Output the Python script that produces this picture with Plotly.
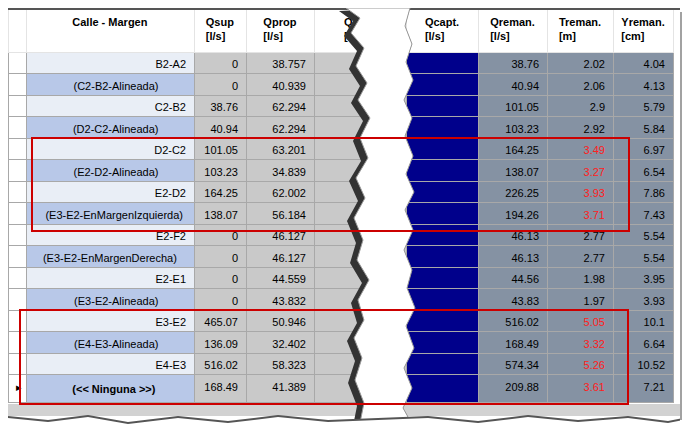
import plotly.graph_objects as go

W, H = 690, 437

calle = ["B2-A2", "(C2-B2-Alineada)", "C2-B2", "(D2-C2-Alineada)", "D2-C2", "(E2-D2-Alineada)",
         "E2-D2", "(E3-E2-EnMargenIzquierda)", "E2-F2", "(E3-E2-EnMargenDerecha)", "E2-E1",
         "(E3-E2-Alineada)", "E3-E2", "(E4-E3-Alineada)", "E4-E3", "(<< Ninguna >>)"]
qsup = [0, 0, 38.76, 40.94, 101.05, 103.23, 164.25, 138.07, 0, 0, 0, 0, 465.07, 136.09, 516.02, 168.49]
qprop = [38.757, 40.939, 62.294, 62.294, 63.201, 34.839, 62.002, 56.184, 46.127, 46.127, 44.559,
         43.832, 50.946, 32.402, 58.323, 41.389]
qreman = [38.76, 40.94, 101.05, 103.23, 164.25, 138.07, 226.25, 194.26, 46.13, 46.13, 44.56,
          43.83, 516.02, 168.49, 574.34, 209.88]
qtot = qreman
treman = [2.02, 2.06, 2.9, 2.92, 3.49, 3.27, 3.93, 3.71, 2.77, 2.77, 1.98, 1.97, 5.05, 3.32, 5.26, 3.61]
yreman = [4.04, 4.13, 5.79, 5.84, 6.97, 6.54, 7.86, 7.43, 5.54, 5.54, 3.95, 3.93, 10.1, 6.64, 10.52, 7.21]
alert = [False] * 4 + [True] * 4 + [False] * 4 + [True] * 4
headers = ["", "<b>Calle - Margen</b>", "<b>Qsup<br>[l/s]</b>", "<b>Qprop<br>[l/s]</b>",
           "<b>Qtotal<br>[l/s]</b>", "<b>Qcapt.<br>[l/s]</b>", "<b>Qreman.<br>[l/s]</b>",
           "<b>Treman.<br>[m]</b>", "<b>Yreman.<br>[cm]</b>"]

n = len(calle)
fmt = lambda v: f"{v:g}"
marker = [""] * (n - 1) + ["▸"]
main_rows = [i % 2 == 0 for i in range(n)]


def label(txt, main, last):
    # column is right aligned: pad the sub-rows so they sit near the centre
    if main:
        return txt
    pad = max(0, int((150 - len(txt) * 5.6) / 2 / 3.1))
    t = f"<b>{txt}</b>" if last else txt
    return t + "\u00a0" * pad


calle_txt = [label(c, m, i == n - 1) for i, (c, m) in enumerate(zip(calle, main_rows))]

values = [marker, calle_txt, [fmt(v) for v in qsup], [fmt(v) for v in qprop], [fmt(v) for v in qtot],
          [""] * n, [fmt(v) for v in qreman], [fmt(v) for v in treman], [fmt(v) for v in yreman]]

fill = [["white"] * n,
        ["#e9eef6" if m else "#b8c8e8" for m in main_rows],
        ["#c9c9c9"] * n, ["#c9c9c9"] * n, ["#c9c9c9"] * n,
        ["#00008b"] * n, ["#8592a3"] * n, ["#8592a3"] * n, ["#8592a3"] * n]
fontc = [["black"] * n] * 7 + [["#ff2020" if a else "black" for a in alert]] + [["black"] * n]

fig = go.Figure(go.Table(
    columnwidth=[18, 168, 52, 68, 92, 72, 69, 66, 60],
    domain=dict(x=[0, 665 / W], y=[1 - 398 / H, 1]),
    header=dict(values=headers, fill_color="white", height=44,
                line=dict(color="#e4e4e4", width=1), align="center",
                font=dict(family="Liberation Sans", size=11, color="black")),
    cells=dict(values=values, fill_color=fill, height=21.5, align=["left"] + ["right"] * 8,
               line=dict(color="#a8a8a8", width=1),
               font=dict(family="Liberation Sans", size=11, color=fontc)),
))


def path(pts):
    s = "M " + " L ".join(f"{x / W:.4f},{1 - y / H:.4f}" for x, y in pts)
    return s + " Z"


shapes = []
shapes.append(dict(type="rect", xref="paper", yref="paper", x0=0, x1=672 / W, y0=1 - 2 / H,
                   y1=1, fillcolor="#555555", line_width=0, layer="above"))
# gray strip under the grid
shapes.append(dict(type="rect", xref="paper", yref="paper", x0=0, x1=672 / W, y0=1 - 408 / H,
                   y1=1 - 396 / H, fillcolor="#d2d2d2", line_width=0, layer="above"))

# tear in the middle
left = [(338, 0), (352, 10), (343, 25), (356, 40), (348, 58), (359, 75), (350, 92), (362, 110),
        (352, 130), (360, 150), (348, 170), (357, 190), (346, 210), (355, 232), (349, 252),
        (361, 272), (350, 292), (356, 312), (346, 330), (354, 350), (347, 372), (356, 395),
        (352, 415), (358, 437)]
right = [(402, 437), (405, 418), (395, 400), (404, 380), (396, 360), (406, 340), (398, 318),
         (407, 300), (399, 280), (404, 262), (396, 242), (405, 222), (397, 202), (406, 184),
         (398, 166), (405, 148), (397, 128), (404, 110), (396, 92), (405, 72), (398, 54),
         (404, 36), (397, 18), (402, 0)]
shadow = [(x - 7, y + 3) for x, y in left] + [(x, y) for x, y in right]
shapes.append(dict(type="path", xref="paper", yref="paper", path=path(shadow),
                   fillcolor="#333333", line_width=0, layer="above"))
shapes.append(dict(type="path", xref="paper", yref="paper", path=path(left + right),
                   fillcolor="white", line=dict(color="#9a9a9a", width=1), layer="above"))

# torn bottom edge
bottom = [(0, 437), (0, 410), (40, 414), (80, 409), (120, 416), (170, 410), (220, 415),
          (270, 409), (320, 414), (420, 410), (470, 415), (520, 409), (570, 414), (620, 410),
          (660, 415), (690, 409), (690, 437)]
shapes.append(dict(type="path", xref="paper", yref="paper", path=path([(x, y - 2) for x, y in bottom]),
                   fillcolor="#555555", line_width=0, layer="above"))
shapes.append(dict(type="path", xref="paper", yref="paper", path=path(bottom),
                   fillcolor="white", line_width=0, layer="above"))
# right shadow
shapes.append(dict(type="rect", xref="paper", yref="paper", x0=672 / W, x1=1, y0=0, y1=1,
                   fillcolor="white", line_width=0, layer="above"))
shapes.append(dict(type="rect", xref="paper", yref="paper", x0=672 / W, x1=678 / W, y0=1 - 412 / H,
                   y1=1 - 4 / H, fillcolor="#7a7a7a", line_width=0, layer="above", opacity=0.7))

# red highlight boxes
for x0, y0, x1, y1 in [(24, 130, 621, 223), (12, 302, 620, 396)]:
    shapes.append(dict(type="rect", xref="paper", yref="paper", x0=x0 / W, x1=x1 / W,
                       y0=1 - y1 / H, y1=1 - y0 / H, line=dict(color="#cc0000", width=2),
                       fillcolor="rgba(0,0,0,0)", layer="above"))

fig.update_layout(width=W, height=H, margin=dict(l=0, r=0, t=0, b=0),
                  paper_bgcolor="white", shapes=shapes)
fig.write_html("out.html")
